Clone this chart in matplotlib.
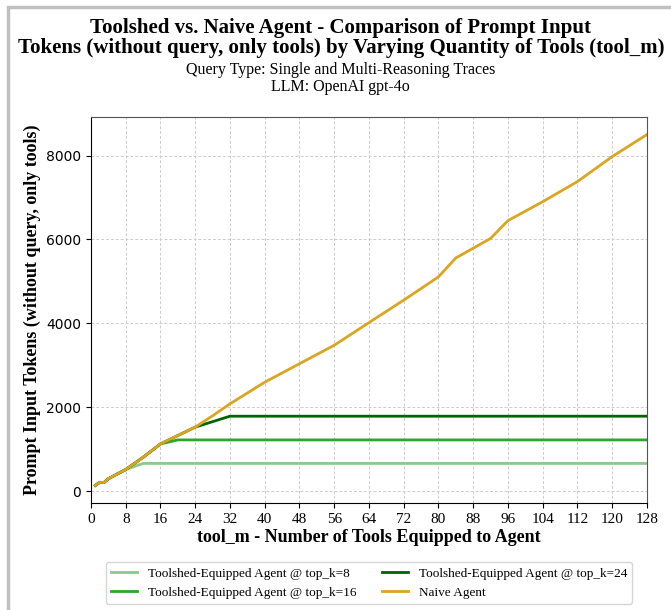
import matplotlib.pyplot as plt
from matplotlib.patches import Rectangle

# ===数据
tool_m = [1, 2, 3, 4, 8, 12, 16, 20, 24, 28, 32, 40, 48, 56, 64, 72, 80, 84, 92, 96, 104, 112, 120, 128]
naive = [140, 215, 210, 300, 520, 810, 1130, 1330, 1530, 1800, 2085, 2600, 3040, 3480, 4020, 4555,
         5110, 5560, 6025, 6450, 6900, 7380, 7975, 8500]
top_k8 = [140, 215, 210, 300, 520, 665, 665, 665, 665, 665, 665, 665, 665, 665, 665, 665,
          665, 665, 665, 665, 665, 665, 665, 665]
top_k16 = [140, 215, 210, 300, 520, 810, 1130, 1225, 1225, 1225, 1225, 1225, 1225, 1225, 1225, 1225,
           1225, 1225, 1225, 1225, 1225, 1225, 1225, 1225]
top_k24 = [140, 215, 210, 300, 520, 810, 1130, 1330, 1530, 1660, 1790, 1790, 1790, 1790, 1790, 1790,
           1790, 1790, 1790, 1790, 1790, 1790, 1790, 1790]
x_ticks = list(range(0, 129, 8))

serif = 'Liberation Serif'

fig = plt.figure(figsize=(6.71, 6.10), dpi=100)
ax = fig.add_axes([0.1356, 0.1754, 0.8286, 0.6328])

ax.plot(tool_m, top_k8, color='#8cc98c', lw=2, label='Toolshed-Equipped Agent @ top_k=8')
ax.plot(tool_m, top_k16, color='#2ca62c', lw=2, label='Toolshed-Equipped Agent @ top_k=16')
ax.plot(tool_m, top_k24, color='#006400', lw=2, label='Toolshed-Equipped Agent @ top_k=24')
ax.plot(tool_m, naive, color='#DAA520', lw=2, label='Naive Agent')

ax.set_xlim(0, 128)
ax.set_xticks(x_ticks)
ax.set_xticklabels([str(t) for t in x_ticks], fontfamily=serif, fontsize=11)
ax.tick_params(axis='y', labelsize=10)
ax.grid(True, color='#cccccc', linestyle=(0, (3, 2)), linewidth=0.7)
for s in ['top', 'right']:
    ax.spines[s].set_color('#555555')

ax.set_xlabel('tool_m - Number of Tools Equipped to Agent', fontfamily=serif,
              fontweight='bold', fontsize=13, labelpad=2)
ax.set_ylabel('Prompt Input Tokens (without query, only tools)', fontfamily=serif,
              fontweight='bold', fontsize=13)

fig.text(0.508, 0.971, 'Toolshed vs. Naive Agent - Comparison of Prompt Input\n'
         'Tokens (without query, only tools) by Varying Quantity of Tools (tool_m)',
         ha='center', va='top', fontfamily=serif, fontweight='bold', fontsize=15,
         linespacing=1.0)
fig.text(0.508, 0.898, 'Query Type: Single and Multi-Reasoning Traces\nLLM: OpenAI gpt-4o',
         ha='center', va='top', fontfamily=serif, fontsize=11.5, linespacing=1.05)

ax.legend(loc='upper center', bbox_to_anchor=(0.5, -0.137), ncol=2,
          prop={'family': serif, 'size': 9.5}, handlelength=2.0, columnspacing=1.9)

# 外框
fig.patches.append(Rectangle((0.012, -0.1), 1.2, 1.089, transform=fig.transFigure,
                             fill=False, edgecolor='#c0c0c0', linewidth=2.5))

plt.savefig('out.png', dpi=100)
